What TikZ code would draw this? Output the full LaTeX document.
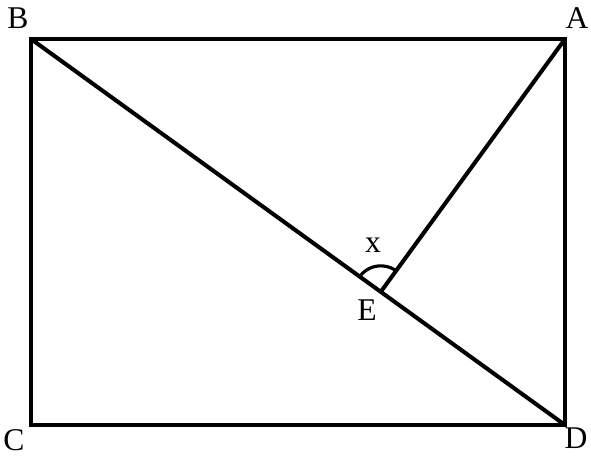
\documentclass[tikz,border=0pt]{standalone}
\usepackage{fontspec}
\setmainfont{Liberation Serif}
\usetikzlibrary{angles,calc}

\begin{document}
\begin{tikzpicture}[x=0.02cm,y=0.02cm,font=\fontsize{18}{20}\selectfont]
\useasboundingbox (0,0) rectangle (591,457);
\coordinate (B) at (31,418); \coordinate (A) at (565,418); \coordinate (C) at (31,32); \coordinate (D) at (565,32);
\coordinate (E) at ($(B)!0.655!(D)$);
\draw[line width=2.6pt] (B)--(A)--(D)--(C)--cycle;
\draw[line width=2.3pt] (B)--(D);
\draw[line width=2.3pt] (A)--(E);
\pic[draw,line width=1.8pt,angle radius=0.52cm] {angle=A--E--B};
\node at (18,439) {B};
\node at (577,439) {A};
\node at (14,17) {C};
\node at (576,19) {D};
\node at (367,147) {E};
\node at (373,212) {x};
\end{tikzpicture}
\end{document}
